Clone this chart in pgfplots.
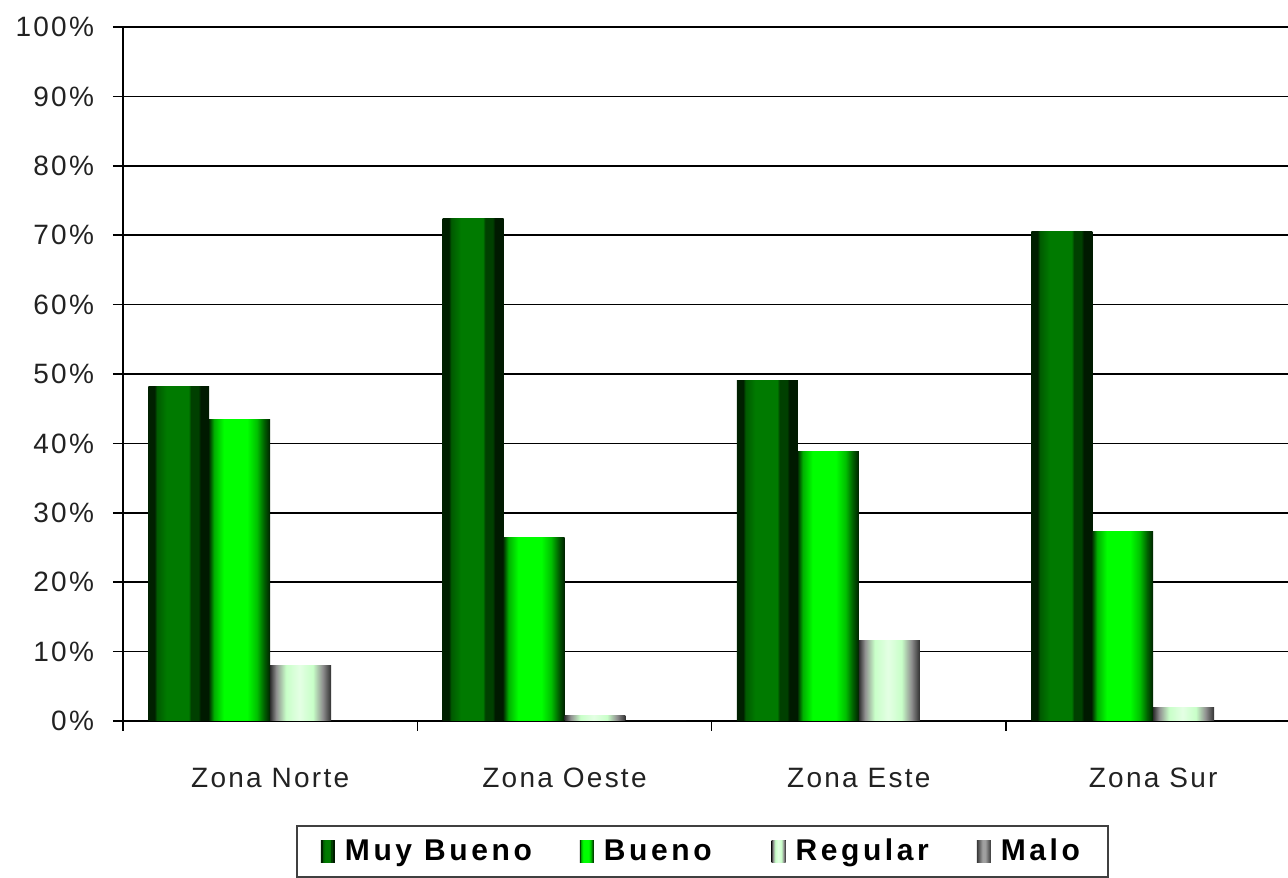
\documentclass[border=0pt]{standalone}
\usepackage{fontspec}
\setmainfont{Liberation Sans}
\newfontfamily\tickfont[LetterSpace=8]{Liberation Sans}
\newfontfamily\legfont[LetterSpace=12]{Liberation Sans}
\usepackage{pgfplots}
\pgfplotsset{compat=1.18}

\definecolor{mbA}{HTML}{002000}
\definecolor{mbB}{HTML}{005A00}
\definecolor{mbC}{HTML}{007A00}
\definecolor{mbD}{HTML}{004000}
\definecolor{mbE}{HTML}{001A00}
\definecolor{bA}{HTML}{003300}
\definecolor{bB}{HTML}{00B000}
\definecolor{bC}{HTML}{00FF00}
\definecolor{bD}{HTML}{00C000}
\definecolor{bE}{HTML}{006000}
\definecolor{bF}{HTML}{002000}
\definecolor{rA}{HTML}{303030}
\definecolor{rB}{HTML}{909090}
\definecolor{rC}{HTML}{C8FFC8}
\definecolor{rD}{HTML}{E4FFE4}
\definecolor{mA}{HTML}{383838}
\definecolor{mB}{HTML}{A0A0A0}
\definecolor{textgray}{HTML}{222222}

\pgfdeclarehorizontalshading{mbshade}{100bp}{color(0bp)=(mbA); color(25bp)=(mbA); color(30bp)=(mbA); color(32bp)=(mbB); color(40bp)=(mbC); color(58bp)=(mbC); color(60bp)=(mbD); color(66bp)=(mbD); color(68bp)=(mbE); color(75bp)=(mbE); color(100bp)=(mbE)}
\pgfdeclarehorizontalshading{bshade}{100bp}{color(0bp)=(bA); color(25bp)=(bA); color(29bp)=(bB); color(37bp)=(bC); color(56bp)=(bC); color(64bp)=(bD); color(70bp)=(bE); color(75bp)=(bF); color(100bp)=(bF)}
\pgfdeclarehorizontalshading{rshade}{100bp}{color(0bp)=(rA); color(25bp)=(rA); color(30bp)=(rB); color(38bp)=(rC); color(49bp)=(rD); color(60bp)=(rC); color(68bp)=(rB); color(75bp)=(rA); color(100bp)=(rA)}
\pgfdeclarehorizontalshading{mshade}{100bp}{color(0bp)=(mA); color(25bp)=(mA); color(45bp)=(mB); color(55bp)=(mB); color(75bp)=(mA); color(100bp)=(mA)}

\pgfplotsset{
  mbstyle/.style={ybar, bar shift=-0.3105, draw=none, shade, shading=mbshade, forget plot},
  bstyle/.style={ybar, bar shift=-0.1035, draw=none, shade, shading=bshade, forget plot},
  rstyle/.style={ybar, bar shift=0.1035, draw=none, shade, shading=rshade, forget plot},
  mstyle/.style={ybar, bar shift=0.3105, draw=none, fill=mA, forget plot},
}

\begin{document}
\begin{tikzpicture}
\begin{axis}[
  scale only axis,
  width=582.5pt, height=347pt,
  xmin=-0.5, xmax=3.458,
  ymin=0, ymax=100,
  axis x line*=bottom, axis y line*=left,
  axis line style={line width=0.8pt, black},
  tick align=outside,
  ytick={0,10,...,100},
  yticklabels={0\%,10\%,20\%,30\%,40\%,50\%,60\%,70\%,80\%,90\%,100\%},
  xtick={0,1,2,3},
  xticklabels={Zona Norte,Zona Oeste,Zona Este,Zona Sur},
  minor xtick={-0.5,0.5,1.5,2.5},
  major x tick style={draw=none},
  minor tick length=5pt,
  major tick length=5pt,
  tick style={line width=0.8pt, black},
  ymajorgrids,
  major grid style={line width=0.8pt, black},
  tick label style={font=\tickfont\fontsize{14}{16}\selectfont, text=textgray},
  xticklabel style={yshift=-15pt},
  yticklabel style={xshift=-6pt},
  bar width=0.207,
  legend columns=4,
  legend style={
    at={(0.1485,-0.1499)}, anchor=north west,
    draw=black!75, line width=1pt,
    font=\legfont\bfseries\fontsize{15}{17}\selectfont,
    inner xsep=12pt, inner ysep=4.5pt,
    /tikz/every odd column/.append style={column sep=3pt},
    /tikz/every even column/.append style={column sep=22pt},
  },
  legend image code/.code={\fill[#1] (0pt,-5.5pt) rectangle (7pt,5.5pt);},
]
% Muy Bueno
\addplot[mbstyle] coordinates {(0,48.2)};
\addplot[mbstyle] coordinates {(1,72.4)};
\addplot[mbstyle] coordinates {(2,49.1)};
\addplot[mbstyle] coordinates {(3,70.6)};
% Bueno
\addplot[bstyle] coordinates {(0,43.5)};
\addplot[bstyle] coordinates {(1,26.4)};
\addplot[bstyle] coordinates {(2,38.9)};
\addplot[bstyle] coordinates {(3,27.3)};
% Regular
\addplot[rstyle] coordinates {(0,8.0)};
\addplot[rstyle] coordinates {(1,0.8)};
\addplot[rstyle] coordinates {(2,11.6)};
\addplot[rstyle] coordinates {(3,1.9)};
% Malo
\addplot[mstyle] coordinates {(0,0) (1,0) (2,0) (3,0)};

\addlegendimage{draw=none, shade, shading=mbshade}
\addlegendentry{Muy Bueno}
\addlegendimage{draw=none, shade, shading=bshade}
\addlegendentry{Bueno\rule{6pt}{0pt}}
\addlegendimage{draw=none, shade, shading=rshade}
\addlegendentry{Regular}
\addlegendimage{draw=none, shade, shading=mshade}
\addlegendentry{Malo}
\coordinate (sw) at (rel axis cs:0,0);
\coordinate (ne) at (rel axis cs:1,1);
\end{axis}
\pgfresetboundingbox
\path[use as bounding box] ([xshift=-61.5pt,yshift=-78.5pt]sw) rectangle ([yshift=13.5pt]ne);
\end{tikzpicture}
\end{document}
